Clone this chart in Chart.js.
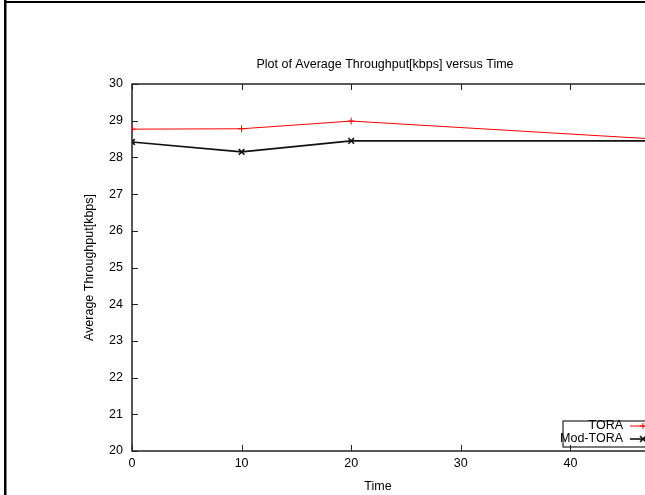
<!DOCTYPE html>
<html><head><meta charset="utf-8">
<script src="https://cdn.jsdelivr.net/npm/chart.js@4"></script>
<style>html,body{margin:0;padding:0;overflow:hidden;background:#fff}#wrap{position:absolute;left:0;top:0;width:770px;height:495px}</style>
</head><body><div id="wrap"><canvas id="c" width="770" height="495" style="width:770px;height:495px"></canvas></div>
<script>
const timeValues = [0, 10, 20, 50];
const toraValues = [28.77, 28.78, 28.99, 28.46];
const modToraValues = [28.42, 28.15, 28.45, 28.45];
const seriesNames = ['TORA', 'Mod-TORA'];
const xTickValues = [0, 10, 20, 30, 40, 50];
const yTickValues = [20, 21, 22, 23, 24, 25, 26, 27, 28, 29, 30];
const chartTitle = 'Plot of Average Throughput[kbps] versus Time';
const xTitle = 'Time';
const yTitle = 'Average Throughput[kbps]';

const FONT = 'Liberation Sans, Arial, sans-serif';
const FS = 12.5;

const framePlugin = {
  id: 'frame',
  beforeDatasetsDraw(chart) {
    const ctx = chart.ctx, a = chart.chartArea;
    const xs = chart.scales.x, ys = chart.scales.y;
    ctx.save();
    ctx.strokeStyle = '#222';
    ctx.lineWidth = 1.5;
    ctx.strokeRect(a.left, a.top, a.right - a.left, a.bottom - a.top);
    ctx.lineWidth = 1;
    ctx.beginPath();
    const tl = 6;
    xs.ticks.forEach(t => {
      const p = Math.round(xs.getPixelForValue(t.value)) + 0.5;
      ctx.moveTo(p, a.bottom); ctx.lineTo(p, a.bottom - tl);
      ctx.moveTo(p, a.top); ctx.lineTo(p, a.top + tl);
    });
    ys.ticks.forEach(t => {
      const p = Math.round(ys.getPixelForValue(t.value)) + 0.5;
      ctx.moveTo(a.left, p); ctx.lineTo(a.left + tl, p);
      ctx.moveTo(a.right, p); ctx.lineTo(a.right - tl, p);
    });
    ctx.stroke();
    // x axis title (gnuplot places it left of the plot-area centre)
    ctx.font = FS + 'px ' + FONT;
    ctx.fillStyle = '#000';
    ctx.textAlign = 'center';
    ctx.textBaseline = 'middle';
    ctx.fillText(xTitle, (a.left + a.right) / 2 - 28, chart.height - 8);
    ctx.restore();
  },
  afterDraw(chart) {
    const ctx = chart.ctx, a = chart.chartArea;
    ctx.save();
    // legend box
    const boxL = a.right - 117, boxR = a.right - 8, boxT = a.bottom - 30, boxB = a.bottom - 4;
    ctx.strokeStyle = '#222';
    ctx.lineWidth = 1.2;
    ctx.strokeRect(boxL, boxT, boxR - boxL, boxB - boxT);
    ctx.font = FS + 'px ' + FONT;
    ctx.fillStyle = '#000';
    ctx.textAlign = 'right';
    ctx.textBaseline = 'middle';
    const rows = [a.bottom - 25, a.bottom - 12];
    chart.data.datasets.forEach((ds, i) => {
      const y = rows[i];
      ctx.fillText(ds.label, a.right - 57, y);
      ctx.strokeStyle = ds.borderColor;
      ctx.lineWidth = ds.borderWidth;
      ctx.beginPath();
      ctx.moveTo(a.right - 50, y); ctx.lineTo(a.right - 24, y);
      ctx.stroke();
      const cx = a.right - 37, r = 3;
      ctx.beginPath();
      if (ds.pointStyle === 'cross') {
        ctx.moveTo(cx - r, y); ctx.lineTo(cx + r, y);
        ctx.moveTo(cx, y - r); ctx.lineTo(cx, y + r);
      } else {
        ctx.moveTo(cx - r, y - r); ctx.lineTo(cx + r, y + r);
        ctx.moveTo(cx - r, y + r); ctx.lineTo(cx + r, y - r);
      }
      ctx.stroke();
    });
    // outer image border (left and top)
    ctx.fillStyle = '#000';
    ctx.fillRect(4, 0, 2.5, chart.height);
    ctx.fillRect(4, 1, chart.width, 2);
    ctx.restore();
  }
};

new Chart(document.getElementById('c'), {
  type: 'line',
  data: {
    datasets: [
      {
        label: seriesNames[0],
        data: timeValues.map((t, i) => ({x: t, y: toraValues[i]})),
        borderColor: '#ff0000',
        backgroundColor: '#ff0000',
        borderWidth: 1,
        pointStyle: 'cross',
        pointRadius: 3.5,
        pointBorderWidth: 1,
        tension: 0,
        fill: false
      },
      {
        label: seriesNames[1],
        data: timeValues.map((t, i) => ({x: t, y: modToraValues[i]})),
        borderColor: '#111111',
        backgroundColor: '#111111',
        borderWidth: 1.6,
        pointStyle: 'crossRot',
        pointRadius: 4,
        pointBorderWidth: 1.6,
        tension: 0,
        fill: false
      }
    ]
  },
  options: {
    responsive: false,
    animation: false,
    devicePixelRatio: 1,
    layout: {padding: {left: 0, right: 0, top: 0, bottom: 0}},
    plugins: {
      legend: {display: false},
      tooltip: {enabled: false},
      title: {
        display: true,
        text: chartTitle,
        color: '#000',
        font: {family: FONT, size: FS, weight: 'normal'},
        padding: {top: 57.5, bottom: 11.5}
      }
    },
    scales: {
      x: {
        type: 'linear',
        min: 0, max: 50,
        afterBuildTicks: s => { s.ticks = xTickValues.map(v => ({value: v})); },
        grid: {display: false, drawTicks: false, tickLength: 0},
        border: {display: false},
        ticks: {padding: 5.5, color: '#000', font: {family: FONT, size: FS}, maxRotation: 0, autoSkip: false},
        title: {display: false, text: xTitle},
        afterFit: s => { s.height = 44; s.paddingRight = 90; s.paddingLeft = 0; }
      },
      y: {
        type: 'linear',
        min: 20, max: 30,
        afterBuildTicks: s => { s.ticks = yTickValues.map(v => ({value: v})); },
        grid: {display: false, drawTicks: false, tickLength: 0},
        border: {display: false},
        ticks: {padding: 9, color: '#000', font: {family: FONT, size: FS}, autoSkip: false},
        title: {display: true, text: yTitle, color: '#000', font: {family: FONT, size: FS}, padding: {top: 82, bottom: 0}},
        afterFit: s => { s.width = 132; }
      }
    }
  },
  plugins: [framePlugin]
});
</script>
</body></html>
